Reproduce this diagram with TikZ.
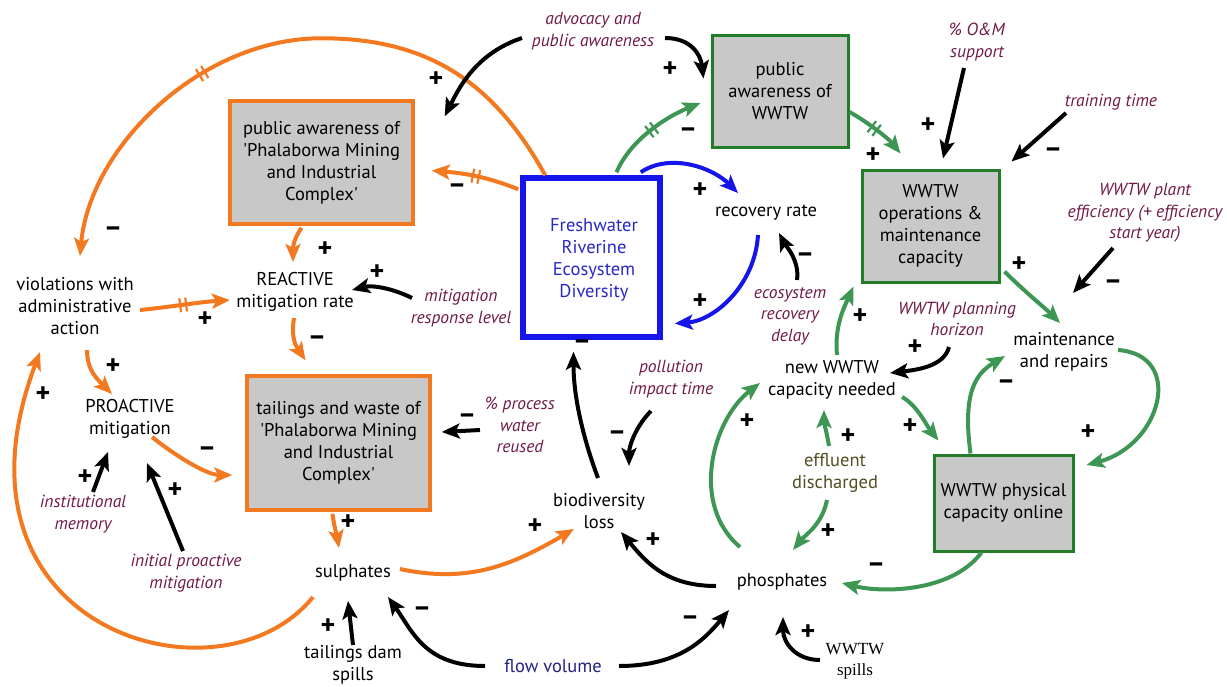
\documentclass[tikz,border=0pt]{standalone}
\usepackage{fontspec}
\setmainfont{PT Sans}
\newfontfamily\serifw{Liberation Serif}
\usetikzlibrary{arrows.meta,calc,decorations.markings}
\definecolor{org}{RGB}{243,121,32}
\definecolor{grn}{RGB}{62,150,84}
\definecolor{gbd}{RGB}{34,125,40}
\definecolor{blu}{RGB}{20,20,235}
\definecolor{blutxt}{RGB}{40,40,200}
\definecolor{maroon}{RGB}{112,26,72}
\definecolor{navy}{RGB}{35,35,130}
\definecolor{olive}{RGB}{80,80,35}
\definecolor{boxgray}{RGB}{200,200,200}
\begin{document}
\begin{tikzpicture}[x=1pt,y=-1pt,
  every node/.style={inner sep=0pt},
  txt/.style={align=center,font=\fontsize{18.5}{22}\selectfont},
  lab/.style={align=center,text=maroon,font=\fontsize{17.5}{21.5}\selectfont\itshape},
  obox/.style={draw=org,fill=boxgray,line width=3.5pt,txt},
  gbox/.style={draw=gbd,fill=boxgray,line width=3pt,txt},
  fwbox/.style={draw=blu,fill=white,line width=5.5pt,txt,text=blutxt},
  pol/.style={font=\fontsize{28}{28}\selectfont\bfseries},
  arr/.style={line width=4pt,-{Stealth[length=18pt,width=15pt,inset=4pt]}},
  oarr/.style={arr,draw=org},
  garr/.style={arr,draw=grn},
  barr/.style={arr,draw=blu},
  karr/.style={arr,draw=black},
  dly/.style={postaction={decorate,decoration={markings,mark=at position #1 with {\draw[-,line width=2.2pt] (-3pt,-7pt)--(-3pt,7pt) (3pt,-7pt)--(3pt,7pt);}}}}
]
\useasboundingbox[fill=white] (0,0) rectangle (1227,686);

% boxes
\node[obox,minimum width=183pt,minimum height=123pt] (papmic) at (321.5,162.5) {public awareness of\\\textquotesingle Phalaborwa Mining\\and Industrial\\Complex\textquotesingle};
\node[fwbox,minimum width=137pt,minimum height=159pt] (fw) at (591.5,257.5) {};
\node[txt,text=blutxt] (fwtext) at (594,259.5) {Freshwater\\Riverine\\Ecosystem\\Diversity};
\node[gbox,minimum width=136pt,minimum height=112pt] (pawwtw) at (780,91) {public\\awareness of\\WWTW};
\node[gbox,minimum width=137pt,minimum height=112pt] (om) at (930.5,226) {WWTW\\operations \&\\maintenance\\capacity};
\node[obox,minimum width=183pt,minimum height=134pt] (tail) at (338.5,443) {tailings and waste of\\\textquotesingle Phalaborwa Mining\\and Industrial\\Complex\textquotesingle};
\node[gbox,minimum width=139pt,minimum height=96pt] (phys) at (1003.5,503) {WWTW physical\\capacity online};

% plain variables
\node[txt] (viol) at (75,306) {violations with\\administrative\\action};
\node[txt] (react) at (295,292) {REACTIVE\\mitigation rate};
\node[txt] (proact) at (130,419) {PROACTIVE\\mitigation};
\node[txt] (recov) at (766,213) {recovery rate};
\node[txt] (maint) at (1064,352) {maintenance\\and repairs};
\node[txt] (newc) at (832,380) {new WWTW\\capacity needed};
\node[txt,text=olive] (effl) at (835,473) {effluent\\discharged};
\node[txt] (bio) at (599,511) {biodiversity\\loss};
\node[txt] (sulph) at (353,573) {sulphates};
\node[txt] (phos) at (782,582) {phosphates};
\node[txt] (tds) at (353,665) {tailings dam\\spills};
\node[txt,text=navy] (flow) at (553,666) {flow volume};
\node[align=center,font=\serifw\fontsize{17}{21.5}\selectfont] (wspill) at (855,661) {WWTW\\spills};

% italic labels
\node[lab] (adv) at (593,31) {advocacy and\\public awareness};
\node[lab] (omsup) at (977,42) {\% O\&M\\support};
\node[lab] (train) at (1111,102) {training time};
\node[lab] (eff) at (1145,213) {WWTW plant\\efficiency (+ efficiency\\start year)};
\node[lab] (mrl) at (461,308) {mitigation\\response level};
\node[lab] (erd) at (790,316) {ecosystem\\recovery\\delay};
\node[lab] (plan) at (957,319) {WWTW planning\\horizon};
\node[lab] (pit) at (671,379) {pollution\\impact time};
\node[lab] (pwr) at (520,425) {\% process\\water\\reused};
\node[lab] (inst) at (83,514) {institutional\\memory};
\node[lab] (ipm) at (186,573) {initial proactive\\mitigation};

% orange connectors
\draw[oarr,dly=0.64] ($(fw.north west)+(25,0)$) .. controls +(-50,-90) and +(110,0) .. ($(papmic.north)+(0,-61)$) .. controls +(-120,0) and +(10,-110) .. ($(viol)+(5,-50)$);
\draw[oarr,dly=0.5] ($(fw.north west)+(-2,14)$) .. controls +(-30,-12) and +(35,3) .. ($(papmic.east)+(17,8)$);
\draw[oarr] ($(papmic.south)+(-20,2)$) .. controls +(-8,12) and +(0,-15) .. ($(react)+(-2,-30)$);
\draw[oarr,dly=0.48] ($(viol)+(65,4)$) .. controls +(30,-3) and +(-30,2) .. ($(react)+(-65,8)$);
\draw[oarr] ($(react)+(-1,26)$) .. controls +(-3,20) and +(-10,-15) .. ($(tail.north)+(-33,-14)$);
\draw[oarr] ($(viol)+(12,44)$) .. controls +(0,20) and +(-15,-15) .. ($(proact)+(-18,-25)$);
\draw[oarr] ($(proact)+(22,18)$) .. controls +(25,20) and +(-25,0) .. ($(tail.west)+(-13,32)$);
\draw[oarr] ($(tail.south)+(-6,2)$) .. controls +(2,15) and +(-2,-12) .. ($(sulph)+(-14,-25)$);
\draw[oarr] ($(sulph)+(47,-4)$) .. controls +(70,15) and +(-60,35) .. ($(bio)+(-25,18)$);
\draw[oarr] ($(sulph)+(-40,24)$) .. controls +(-93,115) and +(-105,278) .. ($(viol)+(-35,46)$);

% blue connectors
\draw[barr] ($(fw.north east)+(-22,-3)$) .. controls +(30,-20) and +(-25,-25) .. ($(recov)+(-28,-20)$);
\draw[barr] ($(recov)+(-8,22)$) .. controls +(-3,50) and +(40,-3) .. ($(fw.east)+(12,66)$);

% green connectors
\draw[garr,dly=0.5] ($(fw.north)+(25,-3)$) .. controls +(15,-35) and +(-30,12) .. ($(pawwtw.west)+(-10,12)$);
\draw[garr,dly=0.45] ($(pawwtw.east)+(0,21)$) .. controls +(18,10) and +(-12,-15) .. ($(om.north west)+(40,-15)$);
\draw[garr] ($(om.south east)+(4,-12)$) .. controls +(20,20) and +(-15,-15) .. ($(maint)+(-4,-29)$);
\draw[garr] ($(maint)+(54,-2)$) .. controls +(67,5) and +(75,-20) .. ($(phys.east)+(12,-38)$);
\draw[garr] ($(phys.north)+(-33,0)$) .. controls +(-8,-60) and +(-30,18) .. ($(maint)+(-59,4)$);
\draw[garr] ($(phys.south)+(-22,0)$) .. controls +(-30,40) and +(40,10) .. ($(phos)+(60,1)$);
\draw[garr] ($(newc)+(70,17)$) .. controls +(15,8) and +(-12,-15) .. ($(phys.north west)+(6,-13)$);
\draw[garr] ($(newc)+(5,-25)$) .. controls +(-3,-30) and +(-8,18) .. ($(om.south west)+(-7,3)$);
\draw[garr] ($(effl)+(-6,-27)$) .. controls +(-2,-12) and +(0,12) .. ($(newc)+(-8,30)$);
\draw[garr] ($(effl)+(-8,27)$) .. controls +(-5,25) and +(12,-15) .. ($(phos)+(11,-32)$);
\draw[garr] ($(phos)+(-42,-35)$) .. controls +(-50,-42) and +(-48,37) .. ($(newc)+(-72,3)$);

% black connectors
\draw[karr] ($(adv)+(-71,7)$) .. controls +(-45,15) and +(15,-30) .. ($(papmic.north east)+(30,17)$);
\draw[karr] ($(adv)+(72,7)$) .. controls +(25,0) and +(-3,-25) .. ($(pawwtw.north west)+(-7,45)$);
\draw[karr] ($(omsup)+(-13,26)$) -- ($(om.north)+(12.5,-10)$);
\draw[karr] ($(train)+(-45,11)$) -- ($(om.north east)+(11,-7)$);
\draw[karr] ($(eff)+(-32,35)$) -- ($(maint)+(9,-59)$);
\draw[karr] ($(plan)+(-8,28)$) .. controls +(-5,20) and +(25,-3) .. ($(newc)+(58,-7)$);
\draw[karr] ($(erd)+(7,-36)$) .. controls +(3,-20) and +(5,10) .. ($(recov)+(13,20)$);
\draw[karr] ($(mrl)+(-49,-10)$) .. controls +(-20,-10) and +(20,-5) .. ($(react)+(57,-2)$);
\draw[karr] ($(pwr)+(-40,5)$) -- ($(tail.east)+(10,-11)$);
\draw[karr] ($(pit)+(-20,32)$) .. controls +(-15,15) and +(0,-20) .. ($(bio)+(30,-45)$);
\draw[karr] ($(bio)+(-1,-33)$) .. controls +(-15,-40) and +(0,45) .. ($(fw.south)+(-18,12)$);
\draw[karr] ($(phos)+(-66,4)$) .. controls +(-50,0) and +(25,30) .. ($(bio)+(22,21)$);
\draw[karr] ($(flow)+(-68,0)$) .. controls +(-60,0) and +(25,35) .. ($(sulph)+(35,24)$);
\draw[karr] ($(flow)+(66,0)$) .. controls +(60,0) and +(-25,30) .. ($(phos)+(-53,28)$);
\draw[karr] ($(tds)+(0,-20)$) -- ($(sulph)+(-5,28)$);
\draw[karr] ($(wspill)+(-35,-1)$) .. controls +(-25,0) and +(0,25) .. ($(phos)+(1,35)$);
\draw[karr] ($(inst)+(10,-22)$) -- ($(proact)+(-22,33)$);
\draw[karr] ($(ipm)+(-3,-22)$) -- ($(proact)+(17,44)$);

% polarities
\node[pol] (s1) at (113,232) {–};
\node[pol] (s2) at (457,189) {–};
\node[pol] (s3) at (436,80) {+};
\node[pol] (s4) at (325,250) {+};
\node[pol] (s5) at (377,273) {+};
\node[pol] (s6) at (205,320) {+};
\node[pol] (s7) at (317,341) {–};
\node[pol] (s8) at (113,367) {+};
\node[pol] (s9) at (43,395) {+};
\node[pol] (s10) at (207,452) {–};
\node[pol] (s11) at (85,478) {+};
\node[pol] (s12) at (175,491) {+};
\node[pol] (s13) at (348,523) {+};
\node[pol] (s14) at (467,419) {–};
\node[pol] (s15) at (582,345) {–};
\node[pol] (s16) at (617,436) {–};
\node[pol] (s17) at (535,527) {+};
\node[pol] (s18) at (653,541) {+};
\node[pol] (s19) at (422,612) {–};
\node[pol] (s20) at (328,627) {+};
\node[pol] (s21) at (690,621) {–};
\node[pol] (s22) at (808,633) {+};
\node[pol] (s23) at (688,133) {–};
\node[pol] (s24) at (670,70) {+};
\node[pol] (s25) at (700,191) {+};
\node[pol] (s26) at (700,302) {+};
\node[pol] (s27) at (805,258) {–};
\node[pol] (s28) at (873,156) {+};
\node[pol] (s29) at (928,126) {+};
\node[pol] (s30) at (1053,153) {–};
\node[pol] (s31) at (1019,265) {+};
\node[pol] (s32) at (1113,285) {–};
\node[pol] (s33) at (860,317) {+};
\node[pol] (s34) at (915,348) {+};
\node[pol] (s35) at (1006,385) {–};
\node[pol] (s36) at (1088,433) {+};
\node[pol] (s37) at (910,427) {+};
\node[pol] (s38) at (848,437) {+};
\node[pol] (s39) at (747,422) {+};
\node[pol] (s40) at (828,532) {+};
\node[pol] (s41) at (876,568) {–};
\end{tikzpicture}
\end{document}
